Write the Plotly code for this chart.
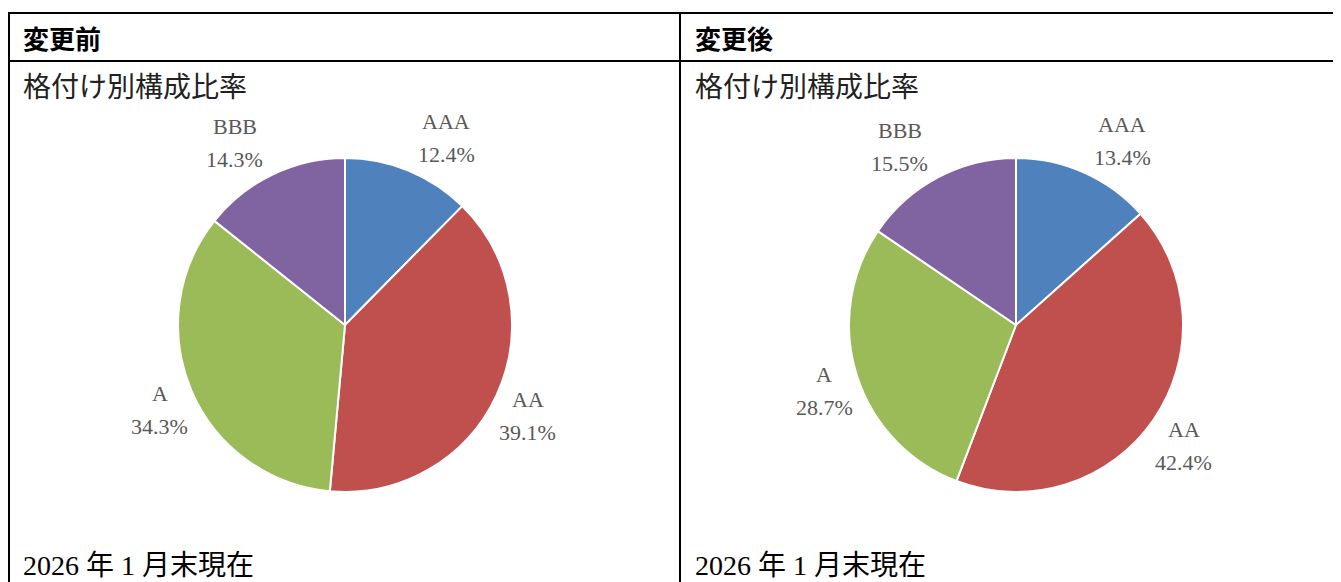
import math
import plotly.graph_objects as go

# Page is 1341x582; the browser's default body margin puts the figure at (8, 8)
OFF = 8
W, H = 1341 - OFF, 582 - OFF

ratings = ["AAA", "AA", "A", "BBB"]
before_pct = [12.4, 39.1, 34.3, 14.3]
after_pct = [13.4, 42.4, 28.7, 15.5]
colors = ["#4F81BD", "#C0504D", "#9BBB59", "#8064A2"]

headers = ["変更前", "変更後"]
subtitle = "格付け別構成比率"
footnote = "2026 年 1 月末現在"


def px_x(x):
    """page pixel -> paper x"""
    return (x - OFF) / W


def px_y(y):
    """page pixel -> paper y"""
    return 1 - (y - OFF) / H


fig = go.Figure()

label_font = dict(family="Liberation Serif, DejaVu Serif, serif", size=22, color="#595959")
annotations = []

R = 167
CY = 325
for vals, cx in [(before_pct, 345), (after_pct, 1016)]:
    fig.add_trace(go.Pie(
        labels=ratings,
        values=vals,
        sort=False,
        direction="clockwise",
        rotation=0,
        marker=dict(colors=colors, line=dict(color="white", width=2)),
        textinfo="none",
        hoverinfo="label+value",
        showlegend=False,
        domain=dict(x=[px_x(cx - R), px_x(cx + R)], y=[px_y(CY + R), px_y(CY - R)]),
    ))
    # outside-end data labels, placed from each slice's mid angle
    total = sum(vals)
    cum = 0.0
    for lab, v in zip(ratings, vals):
        mid = (cum + v / 2) / total * 2 * math.pi
        cum += v
        s, c = math.sin(mid), math.cos(mid)
        rho = R + 6
        px = cx + rho * s
        py = CY - rho * c
        bw, bh = 58, 66
        sgn = 1 if s >= 0 else -1
        lx = px + sgn * (bw / 2 + 7 * c)
        ly = py - (bh / 2) * c + 4
        annotations.append(dict(text=lab, x=px_x(lx), y=px_y(ly - 16.5), xref="paper", yref="paper",
                                xanchor="center", yanchor="middle", showarrow=False, font=label_font))
        annotations.append(dict(text=f"{v:.1f}%", x=px_x(lx), y=px_y(ly + 16.5), xref="paper", yref="paper",
                                xanchor="center", yanchor="middle", showarrow=False, font=label_font))

shapes = []
line = dict(color="black", width=2)
# table borders
shapes.append(dict(type="line", xref="paper", yref="paper", x0=px_x(8), x1=1, y0=px_y(13), y1=px_y(13), line=line))
shapes.append(dict(type="line", xref="paper", yref="paper", x0=px_x(8), x1=1, y0=px_y(61), y1=px_y(61), line=line))
shapes.append(dict(type="line", xref="paper", yref="paper", x0=px_x(9), x1=px_x(9), y0=px_y(12), y1=0, line=line))
shapes.append(dict(type="line", xref="paper", yref="paper", x0=px_x(680), x1=px_x(680), y0=px_y(12), y1=0, line=line))

cjk = "Noto Sans CJK JP, sans-serif"
for i, x0 in enumerate([21, 693]):
    annotations.append(dict(text="<b>" + headers[i] + "</b>", x=px_x(x0), y=px_y(37), xref="paper", yref="paper",
                            xanchor="left", yanchor="middle", showarrow=False,
                            font=dict(family=cjk, size=26, color="black")))
    annotations.append(dict(text=subtitle, x=px_x(x0), y=px_y(85), xref="paper", yref="paper",
                            xanchor="left", yanchor="middle", showarrow=False,
                            font=dict(family=cjk, size=28, color="#222222")))
    annotations.append(dict(text=footnote, x=px_x(x0), y=px_y(565), xref="paper", yref="paper",
                            xanchor="left", yanchor="middle", showarrow=False,
                            font=dict(family="Liberation Serif, Noto Sans CJK JP, serif", size=28, color="black")))

fig.update_layout(
    width=W, height=H,
    margin=dict(l=0, r=0, t=0, b=0),
    paper_bgcolor="white",
    plot_bgcolor="white",
    shapes=shapes,
    annotations=annotations,
)

fig.write_html("out.html")
